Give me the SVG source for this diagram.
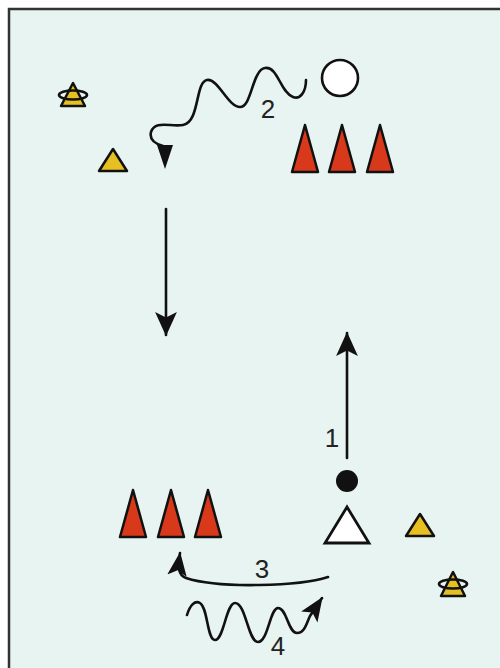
<svg xmlns="http://www.w3.org/2000/svg" width="500" height="668" viewBox="0 0 500 668">
<style>
.cone{fill:#d8391b;stroke:#111;stroke-width:2.5;stroke-linejoin:round}
.ycone{fill:#e6c020;stroke:#111;stroke-width:2.5;stroke-linejoin:round}
.ring{fill:none;stroke:#111;stroke-width:2.6}
.ln{fill:none;stroke:#111;stroke-width:2.6;stroke-linecap:round}
.wv{fill:none;stroke:#111;stroke-width:2.6;stroke-linecap:round}
.lbl{font-family:"Liberation Sans",Arial,sans-serif;font-size:26px;fill:#222;text-anchor:middle}
</style>
<defs>
<marker id="ah" markerUnits="userSpaceOnUse" markerWidth="24" markerHeight="24" viewBox="0 0 22 22" refX="21" refY="11" orient="auto">
<path d="M0,1 L22,11 L0,21 L5,11 z" fill="#111"/>
</marker>
<marker id="ahs" markerUnits="userSpaceOnUse" markerWidth="24" markerHeight="22" viewBox="0 0 22 20" refX="21" refY="10" orient="auto">
<path d="M0,1 L22,10 L0,19 L5,10 z" fill="#111"/>
</marker>
</defs>
<rect x="0" y="0" width="500" height="668" fill="#ffffff"/>
<rect x="9" y="9" width="520" height="700" fill="#e8f4f1" stroke="#333" stroke-width="2.5"/>

<g id="connectors">
<path id="c2" class="wv" d="M306,80 C306,92 300,100 293,97 C280,92 278,66 265,68 C252,70 252,107 240,107 C228,107 218,78 207,80 C195,82 200,122 183,125 C170,127 155,120 151,132 C149,140 156,144 163,146"/>
<polygon points="157,145 173,145 165,169" fill="#111"/>
<line id="cdown" class="ln" x1="166" y1="209" x2="166" y2="335" marker-end="url(#ah)"/>
<line id="c1" class="ln" x1="347" y1="458" x2="347" y2="333" marker-end="url(#ah)"/>
<path id="c3" class="ln" d="M328,577 C300,586 220,589 186,578 C178,575 178,568 180,553" marker-end="url(#ahs)"/>
<path id="c4" class="wv" d="M187,615 C190,605 195,600 200,603 C208,608 207,640 215,640 C224,640 226,603 235,603 C246,603 248,642 258,642 C268,642 270,608 278,608 C287,608 288,633 297,633 C305,633 307,622 310,616 L322,598" marker-end="url(#ahs)"/>
<text class="lbl" x="268" y="118">2</text>
<text class="lbl" x="332" y="447">1</text>
<text class="lbl" x="262" y="578">3</text>
<text class="lbl" x="278" y="655">4</text>
</g>

<g id="marker-tl">
<polygon class="ycone" points="73,83 61,106 85,106"/>
<ellipse class="ring" cx="73" cy="95" rx="14" ry="4.5"/>
</g>
<g id="ycone-top"><polygon class="ycone" points="113,149 99,171 127,171"/></g>
<g id="ball"><circle cx="340" cy="78" r="18" fill="#fff" stroke="#111" stroke-width="2.6"/></g>
<g id="cones-top">
<polygon class="cone" points="305,125 292,172 318,172"/>
<polygon class="cone" points="342,125 329,172 355,172"/>
<polygon class="cone" points="380,125 367,172 393,172"/>
</g>
<g id="cones-bottom">
<polygon class="cone" points="133,490 120,537 146,537"/>
<polygon class="cone" points="171,490 158,537 184,537"/>
<polygon class="cone" points="208,490 195,537 221,537"/>
</g>
<g id="dot"><circle cx="347" cy="481" r="11" fill="#111"/></g>
<g id="player"><polygon points="347,507 325,543 369,543" fill="#fff" stroke="#111" stroke-width="2.8" stroke-linejoin="miter"/></g>
<g id="ycone-right"><polygon class="ycone" points="420,514 406,536 434,536"/></g>
<g id="marker-br">
<polygon class="ycone" points="453,572 441,596 465,596"/>
<ellipse class="ring" cx="453" cy="584" rx="14" ry="4.5"/>
</g>
</svg>
